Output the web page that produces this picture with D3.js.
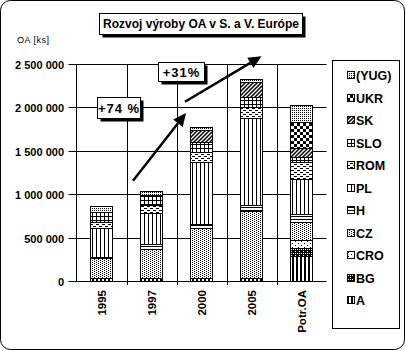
<!DOCTYPE html>
<html><head><meta charset="utf-8">
<script src="https://cdn.jsdelivr.net/npm/d3@7"></script>
<style>body{margin:0;background:#fff}svg text{font-family:"Liberation Sans",Arial,sans-serif}</style>
</head><body><svg id="c" width="406" height="351"></svg>
<script>
// ---- data ----
const categories = ["1995", "1997", "2000", "2005", "Potr.OA"];
const seriesNames = ["A", "BG", "CRO", "CZ", "H", "PL", "ROM", "SLO", "SK", "UKR", "(YUG)"];
const A   = [40000, 40000, 40000, 40000, 290000];
const BG  = [0, 0, 0, 0, 85000];
const CRO = [0, 0, 0, 0, 96000];
const CZ  = [220000, 327000, 566000, 770000, 204000];
const H   = [20000, 60000, 50000, 65000, 96000];
const PL  = [335000, 358000, 720000, 1000000, 404000];
const ROM = [70000, 96000, 108000, 135000, 200000];
const SLO = [110000, 108000, 115000, 115000, 50000];
const SK  = [0, 0, 142000, 162000, 108000];
const UKR = [0, 0, 0, 0, 296000];
const YUG = [65000, 45000, 38000, 38000, 204000];
const yTicks = [0, 500000, 1000000, 1500000, 2000000, 2500000];
const titleText = "Rozvoj výroby OA v S. a V. Európe";
const yAxisTitle = "OA [ks]";
const growthLabels = ["+74 %", "+31%"];

const seriesValues = {"A": A, "BG": BG, "CRO": CRO, "CZ": CZ, "H": H, "PL": PL, "ROM": ROM, "SLO": SLO, "SK": SK, "UKR": UKR, "(YUG)": YUG};
const table = categories.map((c, i) => {
  const row = {cat: c};
  seriesNames.forEach(s => row[s] = seriesValues[s][i]);
  return row;
});

const svg = d3.select("#c");
const defs = svg.append("defs");
const pid = s => "p-" + s.replace(/[()]/g, "");

// ---- patterns ----
function pat(s, w, h, draw, bg) {
  const p = defs.append("pattern").attr("id", pid(s)).attr("patternUnits", "userSpaceOnUse")
    .attr("width", w).attr("height", h);
  p.append("rect").attr("width", w).attr("height", h).attr("fill", bg || "#fff");
  draw(p);
}
const R = (p, x, y, w, h, f) => p.append("rect").attr("x", x).attr("y", y).attr("width", w).attr("height", h).attr("fill", f || "#000");
pat("A", 4, 4, p => R(p, 0, 0, 2, 4));
pat("BG", 4, 4, p => { R(p, 1, 1, 1, 1, "#fff"); R(p, 3, 3, 1, 1, "#fff"); R(p, 3, 1, 1, 1, "#fff"); }, "#000");
pat("CRO", 6, 4, p => { R(p, 1, 1, 1, 1); R(p, 4, 3, 1, 1); });
pat("CZ", 4, 2, p => { R(p, 0, 0, 1, 1); R(p, 2, 1, 1, 1); });
pat("H", 4, 3, p => R(p, 0, 0, 4, 1));
pat("PL", 4, 4, p => R(p, 0, 0, 1, 4));
pat("ROM", 6, 4, p => { R(p, 0, 0, 3, 1); R(p, 3, 2, 3, 1); });
pat("SLO", 4, 4, p => { R(p, 0, 0, 4, 1); R(p, 0, 0, 1, 4); });
pat("SK", 4, 4, p => p.append("path").attr("d", "M-1,5 L5,-1 M-1,1 L1,-1 M3,5 L5,3").attr("stroke", "#000").attr("stroke-width", 1.5));
pat("UKR", 6, 6, p => { R(p, 0, 0, 3, 3); R(p, 3, 3, 3, 3); });
pat("(YUG)", 2, 2, p => R(p, 0, 0, 1, 1));
const fillOf = s => `url(#${pid(s)})`;

// ---- frame ----
svg.append("rect").attr("x", 0.5).attr("y", 0.5).attr("width", 404).attr("height", 349)
  .attr("rx", 10).attr("fill", "#fff").attr("stroke", "#000");

// ---- scales ----
const pLeft = 76.5, pRight = 326.5, pTop = 64, pBottom = 281;
const x = d3.scaleBand().domain(categories).range([pLeft, pRight]).paddingInner(0.56).paddingOuter(0.28);
const xc = d3.scaleLinear().domain([0, categories.length]).range([pLeft, pRight]);
const y = d3.scaleLinear().domain([0, 2500000]).range([pBottom, pTop]);

// gridlines
const g = svg.append("g");
yTicks.filter(t => t > 0).forEach(t => {
  g.append("line").attr("x1", pLeft - 8).attr("x2", pRight).attr("y1", Math.round(y(t)) + 0.5).attr("y2", Math.round(y(t)) + 0.5).attr("stroke", "#000");
});
for (let i = 1; i < categories.length; i++) {
  g.append("line").attr("x1", Math.round(xc(i)) + 0.5).attr("x2", Math.round(xc(i)) + 0.5)
    .attr("y1", Math.round(y(2500000)) + 0.5).attr("y2", pBottom + 4).attr("stroke", "#000");
}
// axes
g.append("line").attr("x1", pLeft).attr("x2", pLeft).attr("y1", Math.round(y(2500000)) + 0.5).attr("y2", pBottom + 0.5).attr("stroke", "#000");
g.append("line").attr("x1", pLeft - 8).attr("x2", pRight).attr("y1", pBottom + 0.5).attr("y2", pBottom + 0.5).attr("stroke", "#000");

// y labels
const fmt = v => d3.format(",")(v).replace(/,/g, " ");
svg.append("g").selectAll("text").data(yTicks).join("text")
  .attr("x", 64).attr("y", d => Math.round(y(d)) + 4.5).attr("text-anchor", "end")
  .attr("font-size", 11).attr("font-weight", "bold").text(fmt);

// x labels
svg.append("g").selectAll("text").data(categories).join("text")
  .attr("transform", d => `translate(${x(d) + x.bandwidth() / 2 + 4},290) rotate(-90)`)
  .attr("text-anchor", "end").attr("font-size", 11.5).attr("font-weight", "bold").text(d => d);

// ---- stacked bars ----
const stack = d3.stack().keys(seriesNames)(table);
const bars = svg.append("g");
stack.forEach(layer => {
  bars.append("g").selectAll("rect").data(layer.filter(d => d[1] - d[0] > 0)).join("rect")
    .attr("x", d => x(d.data.cat)).attr("width", x.bandwidth())
    .attr("y", d => Math.round(y(d[1])) + 0.5).attr("height", d => Math.round(y(d[0])) - Math.round(y(d[1])))
    .attr("fill", fillOf(layer.key)).attr("stroke", "#000").attr("stroke-width", 1);
});

// ---- growth arrows ----
const arrows = [
  {from: [1.13, 1155000], to: [2.19, 1935000]},
  {from: [2.17, 2065000], to: [3.70, 2590000]}
];
arrows.forEach(a => {
  const x1 = xc(a.from[0]), y1 = y(a.from[1]), x2 = xc(a.to[0]), y2 = y(a.to[1]);
  const ang = Math.atan2(y2 - y1, x2 - x1), L = 13, W = 6;
  const bx = x2 - L * Math.cos(ang), by = y2 - L * Math.sin(ang);
  svg.append("line").attr("x1", x1).attr("y1", y1).attr("x2", bx).attr("y2", by)
    .attr("stroke", "#000").attr("stroke-width", 2.5);
  const px = -Math.sin(ang) * W, py = Math.cos(ang) * W;
  svg.append("path").attr("d", `M${x2},${y2}L${bx + px},${by + py}L${bx - px},${by - py}Z`).attr("fill", "#000");
});

// ---- label boxes ----
function box(cx, cy, w, h, text, fs, ls) {
  const x0 = Math.round(cx - w / 2) + 0.5, y0 = Math.round(cy - h / 2) + 0.5;
  svg.append("rect").attr("x", x0 + 3).attr("y", y0 + 3).attr("width", w).attr("height", h).attr("fill", "#000");
  svg.append("rect").attr("x", x0).attr("y", y0).attr("width", w).attr("height", h).attr("fill", "#fff").attr("stroke", "#000");
  svg.append("text").attr("x", x0 + w / 2).attr("y", y0 + h / 2 + fs * 0.36).attr("text-anchor", "middle")
    .attr("font-size", fs).attr("font-weight", "bold").attr("letter-spacing", ls || 0).text(text);
}
box(xc(0.84), y(2000000), 43, 21, growthLabels[0], 13, 1);
box(xc(2.09), y(2415000), 46, 19, growthLabels[1], 13, 1);
box(200.5, 23, 203, 21, titleText, 12, 0);

// y axis title
svg.append("text").attr("x", 17).attr("y", 43).attr("font-size", 9).attr("letter-spacing", 0.5).text(yAxisTitle);

// ---- legend ----
const lg = svg.append("g");
lg.append("rect").attr("x", 332.5).attr("y", 60.5).attr("width", 67).attr("height", 268).attr("fill", "#fff").attr("stroke", "#000");
const legendItems = seriesNames.slice().reverse();
lg.selectAll("g.it").data(legendItems).join("g").attr("class", "it")
  .attr("transform", (d, i) => `translate(347,${Math.round(75 + i * 22.5)})`)
  .each(function(d) {
    const s = d3.select(this);
    s.append("rect").attr("x", 0.5).attr("y", -3.5).attr("width", 7).attr("height", 7)
      .attr("fill", fillOf(d)).attr("stroke", "#000");
    s.append("text").attr("x", 9).attr("y", 5).attr("font-size", 12.5).attr("font-weight", "bold").text(d);
  });
</script></body></html>
